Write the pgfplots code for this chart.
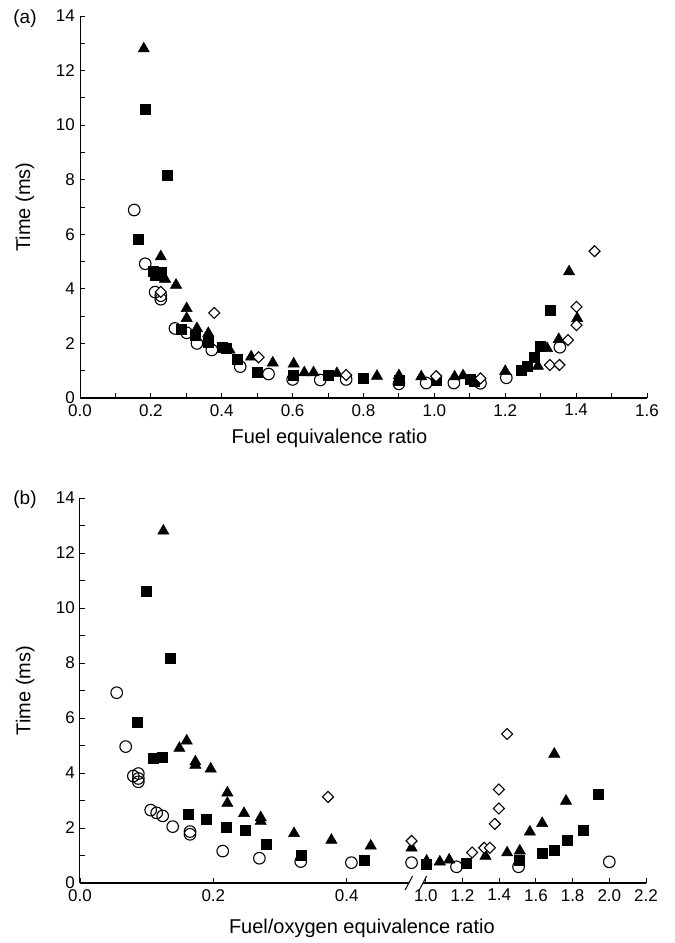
\documentclass[border=0pt]{standalone}
\usepackage{pgfplots}
\pgfplotsset{compat=1.18}
\usepackage{fontspec}
\setmainfont{Liberation Sans}
\begin{document}
\begin{tikzpicture}[x=1pt,y=1pt]
\path[use as bounding box] (0,0) rectangle (675,943);
\pgfplotsset{
 mystyle/.style={
  scale only axis,
  axis x line*=bottom, axis y line*=left,
  axis line style={-, black},
  y axis line style={line width=1pt},
  tick align=inside,
  major tick length=5pt, minor tick length=5pt,
  every tick/.style={black, line width=0.9pt},
  ymin=0,ymax=14, ytick={0,2,4,6,8,10,12,14}, minor ytick={1,3,5,7,9,11,13},
  /pgf/number format/assume math mode=true,
  ticklabel style={font=\fontsize{17}{17}\selectfont, inner sep=1pt},
  xticklabel style={yshift=-5pt},
  yticklabel style={xshift=-4pt},
  every axis y label/.style={at={(axis description cs:-0.097,0.5)}, rotate=90, anchor=center, font=\fontsize{20}{20}\selectfont},
  clip=false,
 },
 tri/.style={only marks, mark=triangle*, mark size=6.5pt, mark options={fill=black, draw=black, line width=0.5pt}},
 sq/.style={only marks, mark=square*, mark size=5pt, mark options={fill=black, draw=black, line width=0.5pt}},
 circ/.style={only marks, mark=o, mark size=5.8pt, mark options={draw=black, line width=1.1pt}},
 diam/.style={only marks, mark=square*, mark size=3.9pt, mark options={rotate=45, fill=white, draw=black, line width=1.1pt}},
}
% ---------------- panel (a)
\begin{axis}[mystyle,
  at={(80pt,545pt)}, anchor=south west,
  width=567pt, height=382pt,
  xmin=0, xmax=1.6,
  x axis line style={line width=2.2pt},
  xtick={0,0.2,0.4,0.6,0.8,1.0,1.2,1.4,1.6},
  xticklabels={0.0,0.2,0.4,0.6,0.8,1.0,1.2,1.4,1.6},
  minor xtick={0.1,0.3,0.5,0.7,0.9,1.1,1.3,1.5},
  xlabel={Fuel equivalence ratio},
  every axis x label/.style={at={(axis description cs:0.44,-0.105)}, anchor=center, font=\fontsize{20}{20}\selectfont},
  ylabel={Time (ms)},
]
\addplot[circ] coordinates {(0.153,6.89) (0.184,4.92) (0.212,3.88) (0.228,3.75) (0.228,3.62) (0.268,2.55) (0.301,2.39) (0.33,2.0) (0.372,1.76) (0.452,1.15) (0.532,0.88) (0.6,0.68) (0.678,0.66) (0.751,0.68) (0.9,0.52) (0.977,0.55) (1.055,0.55) (1.13,0.54) (1.203,0.74) (1.354,1.86)};
\addplot[sq] coordinates {(0.184,10.6) (0.245,8.15) (0.163,5.82) (0.207,4.63) (0.228,4.6) (0.212,4.5) (0.287,2.51) (0.325,2.31) (0.362,2.06) (0.4,1.86) (0.412,1.82) (0.443,1.42) (0.499,0.96) (0.603,0.84) (0.701,0.84) (0.8,0.72) (0.9,0.65) (1.005,0.64) (1.102,0.67) (1.113,0.63) (1.245,1.03) (1.262,1.17) (1.281,1.51) (1.3,1.88) (1.326,3.2)};
\addplot[tri] coordinates {(0.18,12.8) (0.228,5.18) (0.24,4.36) (0.271,4.14) (0.301,3.28) (0.301,2.92) (0.33,2.55) (0.362,2.37) (0.362,2.2) (0.422,1.76) (0.483,1.51) (0.544,1.29) (0.603,1.25) (0.633,0.93) (0.659,0.93) (0.725,0.9) (0.838,0.8) (0.9,0.82) (0.963,0.78) (1.057,0.78) (1.081,0.82) (1.2,0.98) (1.292,1.17) (1.318,1.82) (1.351,2.15) (1.38,4.63) (1.403,2.92)};
\addplot[diam] coordinates {(0.228,3.89) (0.379,3.12) (0.504,1.49) (0.751,0.84) (1.005,0.8) (1.13,0.72) (1.326,1.21) (1.353,1.21) (1.377,2.12) (1.401,2.67) (1.401,3.34) (1.452,5.38)};
\end{axis}
% ---------------- panel (b)
\begin{axis}[mystyle,
  at={(80pt,60pt)}, anchor=south west,
  width=566pt, height=385pt,
  x coord trafo/.code={\pgfmathparse{ifthenelse(#1<0.7,#1,0.5187+(#1-1)*0.2751)}},
  xmin=0, xmax=2.2,
  x axis line style={draw=none},
  xtick={0,0.2,0.4,1.0,1.2,1.4,1.6,1.8,2.0,2.2},
  xticklabels={0.0,0.2,0.4,1.0,1.2,1.4,1.6,1.8,2.0,2.2},
  xlabel={Fuel/oxygen equivalence ratio},
  every axis x label/.style={at={(axis description cs:0.498,-0.117)}, anchor=center, font=\fontsize{20}{20}\selectfont},
  ylabel={Time (ms)},
]
\draw[line width=1.2pt] (rel axis cs:0,0) -- (rel axis cs:0.581,0);
\draw[line width=1.2pt] (rel axis cs:0.606,0) -- (rel axis cs:1,0);
\draw[line width=1pt] ([xshift=-3.7pt,yshift=-7pt]rel axis cs:0.581,0) -- ([xshift=3.7pt,yshift=7pt]rel axis cs:0.581,0);
\draw[line width=1pt] ([xshift=-3.7pt,yshift=-7pt]rel axis cs:0.606,0) -- ([xshift=3.7pt,yshift=7pt]rel axis cs:0.606,0);
\addplot[circ] coordinates {(0.055,6.92) (0.0685,4.96) (0.08,3.89) (0.0875,3.98) (0.0875,3.8) (0.0875,3.68) (0.106,2.65) (0.115,2.55) (0.124,2.44) (0.139,2.05) (0.165,1.87) (0.165,1.77) (0.214,1.16) (0.269,0.9) (0.331,0.78) (0.407,0.74) (0.922,0.74) (1.167,0.59) (1.505,0.59) (2.0,0.77)};
\addplot[sq] coordinates {(0.099,10.62) (0.136,8.19) (0.086,5.84) (0.11,4.53) (0.123,4.59) (0.162,2.51) (0.19,2.33) (0.219,2.02) (0.248,1.9) (0.28,1.41) (0.332,1.02) (0.427,0.81) (1.004,0.69) (1.221,0.71) (1.507,0.83) (1.634,1.08) (1.7,1.2) (1.772,1.54) (1.856,1.93) (1.937,3.24)};
\addplot[tri] coordinates {(0.125,12.8) (0.149,4.9) (0.16,5.17) (0.173,4.41) (0.173,4.29) (0.196,4.15) (0.221,3.28) (0.221,2.9) (0.246,2.53) (0.271,2.38) (0.271,2.25) (0.321,1.8) (0.377,1.56) (0.436,1.35) (0.922,1.28) (1.004,0.8) (1.076,0.77) (1.127,0.84) (1.325,0.98) (1.443,1.1) (1.512,1.17) (1.567,1.86) (1.634,2.17) (1.7,4.69) (1.764,2.98)};
\addplot[diam] coordinates {(0.372,3.13) (0.922,1.53) (1.252,1.11) (1.318,1.28) (1.349,1.28) (1.376,2.15) (1.398,2.71) (1.398,3.4) (1.443,5.42)};
\end{axis}
\node[font=\fontsize{19}{19}\selectfont] at (25,924) {(a)};
\node[font=\fontsize{19}{19}\selectfont] at (25,443) {(b)};
\end{tikzpicture}
\end{document}
